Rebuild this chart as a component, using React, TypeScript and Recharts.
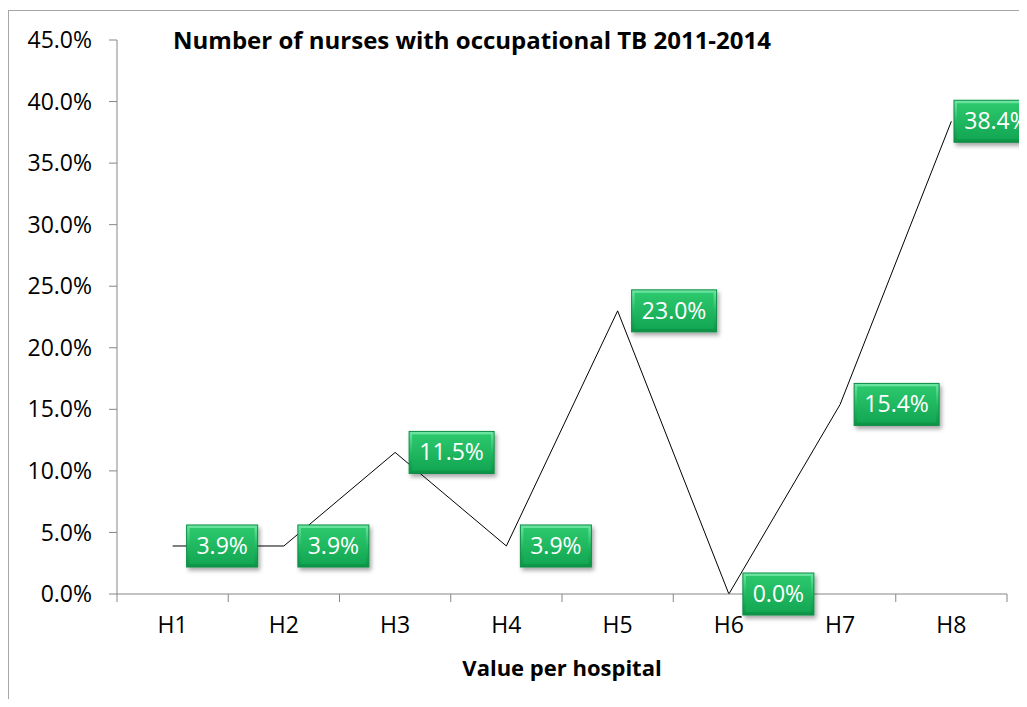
import React from 'react';
import { LineChart, Line, XAxis, YAxis, LabelList, Label } from 'recharts';

const hospitals = ['H1', 'H2', 'H3', 'H4', 'H5', 'H6', 'H7', 'H8'];
const nurseTbPct = [3.9, 3.9, 11.5, 3.9, 23.0, 0.0, 15.4, 38.4];
const yTicks = [0, 5, 10, 15, 20, 25, 30, 35, 40, 45];

const data = hospitals.map((name, i) => ({ pos: i + 1, name, value: nurseTbPct[i] }));

// centres (labels) and band edges (tick marks) for the category axis
const xTicks: number[] = [0.5];
hospitals.forEach((_, i) => {
  xTicks.push(i + 1, i + 1.5);
});

const FONT = '"Open Sans", sans-serif';
const AXIS = '#868686';

const charW = (c: string) => {
  if (c === '.') return 6.1;
  if (c === '%') return 18.9;
  return 13.2;
};

const XTick = (props: any) => {
  const { x, y, payload } = props;
  const v = payload.value;
  if (Number.isInteger(v)) {
    return (
      <text x={x} y={y} dy={31} textAnchor="middle" fontSize={23} fill="#000" fontFamily={FONT}>
        {hospitals[v - 1]}
      </text>
    );
  }
  return <line x1={x} x2={x} y1={y - 8} y2={y} stroke={AXIS} strokeWidth={1} />;
};

const BoxLabel = (props: any) => {
  const { x, y, value } = props;
  const txt = `${Number(value).toFixed(1)}%`;
  const tw = txt.split('').reduce((s, c) => s + charW(c), 0);
  const w = Math.round(tw + 20);
  const h = 42;
  const bx = Math.min(x + 14, 1030 - w);
  const by = y - h / 2;
  return (
    <g>
      <rect x={bx} y={by} width={w} height={h} fill="url(#boxGrad)" stroke="#0c8c44" strokeWidth={1} filter="url(#boxShadow)" />
      <rect x={bx + 3} y={by + 3} width={w - 6} height={h - 6} fill="url(#innerGrad)" />
      <text x={bx + w / 2} y={by + h / 2} dy={8} textAnchor="middle" fontSize={23} fill="#fff" fontFamily={FONT}>
        {txt}
      </text>
    </g>
  );
};

export default function App() {
  return (
    <div style={{ width: 1019, height: 691, overflow: 'hidden', fontFamily: FONT }}>
      <div
        style={{
          position: 'relative',
          marginTop: 2,
          width: 1040,
          height: 720,
          border: '1px solid #a6a6a6',
          boxSizing: 'border-box',
          background: '#fff',
        }}
      >
        <div
          style={{
            position: 'absolute',
            left: 0,
            top: 17,
            width: 926,
            textAlign: 'center',
            fontSize: 24,
            lineHeight: '24px',
            fontWeight: 700,
            color: '#000',
          }}
        >
          Number of nurses with occupational TB 2011-2014
        </div>
        <LineChart width={1040} height={700} data={data} margin={{ top: 29, right: 42, left: 48, bottom: 17 }}>
          <defs>
            <linearGradient id="boxGrad" x1="0" y1="0" x2="0" y2="1">
              <stop offset="0%" stopColor="#6fe7a4" />
              <stop offset="50%" stopColor="#22bb62" />
              <stop offset="100%" stopColor="#0c9345" />
            </linearGradient>
            <linearGradient id="innerGrad" x1="0" y1="0" x2="0" y2="1">
              <stop offset="0%" stopColor="#2cc86d" />
              <stop offset="100%" stopColor="#13a753" />
            </linearGradient>
            <filter id="boxShadow" x="-20%" y="-20%" width="150%" height="160%">
              <feDropShadow dx="2" dy="3" stdDeviation="2" floodColor="#000" floodOpacity="0.35" />
            </filter>
          </defs>
          <XAxis
            dataKey="pos"
            type="number"
            domain={[0.5, hospitals.length + 0.5]}
            ticks={xTicks}
            interval={0}
            tickLine={false}
            tickSize={8}
            tickMargin={0}
            axisLine={{ stroke: AXIS }}
            tick={<XTick />}
            height={100}
          >
            <Label
              value="Value per hospital"
              position="insideBottom"
              offset={18}
              style={{ fontSize: 22, fontWeight: 700, fill: '#000', fontFamily: FONT }}
            />
          </XAxis>
          <YAxis
            type="number"
            domain={[0, 45]}
            ticks={yTicks}
            interval={0}
            width={60}
            tickFormatter={(v: number) => `${v.toFixed(1)}%`}
            axisLine={{ stroke: AXIS }}
            tickLine={{ stroke: AXIS }}
            tickSize={8}
            tickMargin={17}
            tick={{ fontSize: 23, fill: '#000', fontFamily: FONT }}
          />
          <Line
            type="linear"
            dataKey="value"
            stroke="#000"
            strokeWidth={1}
            dot={false}
            activeDot={false}
            isAnimationActive={false}
          >
            <LabelList dataKey="value" content={<BoxLabel />} />
          </Line>
        </LineChart>
      </div>
    </div>
  );
}
